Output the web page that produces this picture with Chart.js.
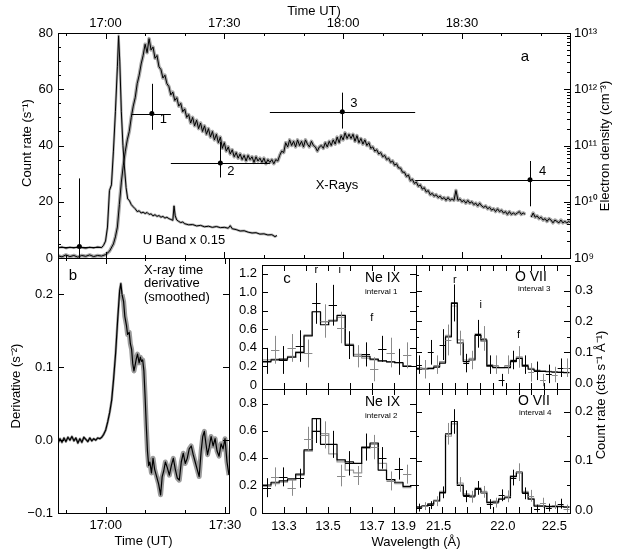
<!DOCTYPE html>
<html>
<head>
<meta charset="utf-8">
<script src="https://cdn.jsdelivr.net/npm/chart.js@4.4.1/dist/chart.umd.min.js"></script>
<style>
html, body { margin: 0; padding: 0; background: #fff; }
#wrap { position: relative; width: 627px; height: 551px; overflow: hidden; }
#wrap canvas { position: absolute; left: 0; top: 0; }
</style>
</head>
<body>
<div id="wrap">
  <canvas id="cA" width="627" height="551"></canvas>
  <canvas id="cB" width="627" height="551"></canvas>
  <canvas id="cC1" width="627" height="551"></canvas>
  <canvas id="cC2" width="627" height="551"></canvas>
  <canvas id="cC3" width="627" height="551"></canvas>
  <canvas id="cC4" width="627" height="551"></canvas>
</div>
<script>
// ================= DATA =================
// times are minutes after 17:00 UT

// panel a: X-ray count rate [min, s^-1]
const xrayRate = [
  [-12,0.8],[-11,0.4],[-10,1.1],[-9,0.5],[-8,0.9],[-7,0.3],[-6,0.9],[-5,0.6],[-4,1.1],[-3,0.5],[-2,0.9],[-1,0.7],
  [0,1.2],[1,2.4],[2,5],[2.5,7.5],[3,11],[3.5,19],[4,27],[4.5,33],[5,38],[5.5,42],[6,45],[6.5,50],[7,54],[7.5,57],
  [8,62],[8.5,65],[9,69],[9.5,72],[10,76],[10.5,73],[11,78],[11.5,74],[12,75],[12.5,71],[13,72],[13.5,68],[14,67],
  [14.5,64],[15,65],[15.5,62],[16,61],[16.5,58],[17,59],[17.5,56],[18,57],[18.5,54],[19,55],[19.5,52],[20,53],
  [20.5,50],[21,51],[21.5,48],[22,50],[22.5,47],[23,49],[23.5,46],[24,48],[24.5,45],[25,47],[25.5,44],[26,46],
  [26.5,43],[27,45],[27.5,42],[28,44],[28.5,41],[29,43],[29.5,39],[30,41],[30.5,38],[31,39.5],[31.5,37],[32,38.5],
  [32.5,36],[33,37.5],[33.5,35.5],[34,37],[34.5,35],[35,36.5],[35.5,34.5],[36,36.5],[36.5,35],[37,36],[37.5,34],
  [38,36],[38.5,34.5],[39,35.5],[39.5,34],[40,35.5],[40.5,33.5],[41,35],[41.5,34],[42,35],[42.5,33.5],[43,35],
  [43.5,34.5],[44,36.5],[44.5,38],[45,37.5],[45.5,41],[46,39.5],[46.5,42],[47,40],[47.5,41.5],[48,39.5],[48.5,42],
  [49,40],[49.5,41.5],[50,39.5],[50.5,42],[51,40.5],[51.5,39.5],[52,41.5],[52.5,40],[53,39.5],[53.5,38],[54,39.5],
  [54.5,40],[55,39],[55.5,41],[56,39.5],[56.5,41.5],[57,40],[57.5,42],[58,40.5],[58.5,43],[59,41],[59.5,43.5],
  [60,42],[60.5,44.5],[61,42.5],[61.5,44],[62,42.5],[62.5,44],[63,41.5],[63.5,43.5],[64,41],[64.5,42.5],[65,40.5],
  [65.5,42],[66,40],[66.5,41],[67,39],[67.5,39.5],[68,38],[68.5,38.5],[69,37],[69.5,37.5],[70,36],[70.5,36.5],
  [71,35],[71.5,35.5],[72,34],[72.5,34.5],[73,33],[73.5,33.5],[74,32],[74.5,32],[75,30.5],[75.5,30.5],[76,29],
  [76.5,29.5],[77,27.5],[77.5,28],[78,26.5],[78.5,27],[79,25.5],[79.5,26],[80,24.5],[80.5,25],[81,23.5],[81.5,24],
  [82,22.5],[82.5,23],[83,22],[83.5,22.5],[84,21.5],[84.5,22],[85,21],[85.5,21.5],[86,20.5],[86.5,21.5],[87,20.5],
  [87.5,21],[88,20.5],[88.5,24],[89,20.5],[89.5,21],[90,20],[90.5,20.5],[91,19.5],[91.5,20.5],[92,19.5],[92.5,20],
  [93,19],[93.5,19.5],[94,18.5],[94.5,19.5],[95,18.5],[95.5,18],[96,18.5],[96.5,17.5],[97,18],[97.5,17],[98,17.5],
  [98.5,16.5],[99,17.5],[99.5,16.5],[100,17],[100.5,16],[101,16.5],[101.5,15.5],[102,16.5],[102.5,15.5],[103,16],
  [103.5,15.5],[104,16],[104.5,16.5],[105,15.5],[105.5,16],[106,15.5],[106.5,null],[107.5,14.5],[108,16],
  [108.5,14.5],[109,15],[109.5,14],[110,14.5],[110.5,13.5],[111,14],[111.5,13],[112,14],[112.5,13.5],[113,12.5],
  [113.5,13.5],[114,13],[114.5,12.5],[115,13.5],[115.5,12.5],[116,13],[116.5,12.5],[117,13],[117.3,12.6]
];

// panel a: U band rate x 0.15 [min, s^-1]
const uBandRate = [
  [-12,3.6],[-11,3.9],[-10,3.5],[-9,3.8],[-8,3.6],[-7,3.9],[-6,3.7],[-5,3.5],[-4,3.8],[-3,3.6],[-2,3.9],[-1,3.7],
  [-0.5,4.5],[0,6],[0.5,11],[1,24],[1.5,26],[2,38],[2.5,52],[3,68],[3.3,79],[3.6,70],[4,52],[4.4,40],[4.8,32],
  [5.2,25],[5.6,21],[6,20.5],[6.5,19],[7,18.2],[7.5,17.5],[8,16.5],[8.5,16.8],[9,16],[9.5,16.3],[10,15.8],
  [10.5,16.2],[11,15.5],[11.5,15.7],[12,15],[12.5,15.4],[13,14.8],[13.5,15.1],[14,14.5],[14.5,14.8],[15,14.2],
  [15.5,14.5],[16,14],[16.5,13.7],[17,13.4],[17.3,18.5],[17.6,15],[18,13.5],[18.5,13],[19,12.6],[19.5,12.8],
  [20,12.2],[21,11.8],[22,11.9],[23,11.4],[24,11.6],[25,11.1],[26,11.3],[27,10.9],[28,11.2],[29,10.8],[30,10.9],
  [31,10.6],[31.5,11.5],[32,10.4],[33,10.1],[34,9.6],[35,9.7],[36,9.2],[37,8.9],[38,9],[39,8.5],[40,8.6],
  [41,8.2],[42,8.3],[42.8,7.6],[43.3,8.0]
];

// panel a: electron density per interval [min, cm^-3] with ranges
const densityTime  = [-6.6, 11.7, 29.0, 59.8, 107.2];
const densityStart = [-12, 6.6, 16.5, 41.5, 78.2];
const densityEnd   = [-1, 16.5, 41.5, 78.2, 117.3];
const densityValue = [1.6e9, 3.7e11, 4.9e10, 4.0e11, 2.45e10];
const densityLow   = [1e8, 1.9e11, 2.7e10, 2.0e11, 8.3e9];
const densityHigh  = [2.6e10, 1.25e12, 1.16e11, 8.7e11, 5.3e10];
const densityLabel = ['', '1', '2', '3', '4'];

// panel b: smoothed X-ray time derivative [min, s^-2]
const xrayDeriv = [
  [-12,-0.004],[-11.5,0.002],[-11,-0.003],[-10.5,0.003],[-10,-0.002],[-9.5,0.004],[-9,0.000],[-8.5,0.005],
  [-8,-0.001],[-7.5,0.003],[-7,-0.004],[-6.5,0.002],[-6,-0.003],[-5.5,0.004],[-5,0.001],[-4.5,-0.002],[-4,0.003],
  [-3.5,-0.001],[-3,0.002],[-2.5,0.000],[-2,0.003],[-1.5,0.002],[-1,0.004],[-0.5,0.008],[0,0.014],[0.5,0.025],
  [1,0.038],[1.5,0.055],[2,0.085],[2.5,0.12],[3,0.165],[3.5,0.205],[3.8,0.215],[4.1,0.200],[4.5,0.190],
  [4.8,0.170],[5.2,0.158],[5.5,0.145],[5.9,0.148],[6.2,0.132],[6.5,0.125],[6.8,0.105],[7.1,0.095],[7.4,0.103],
  [7.7,0.112],[8,0.118],[8.4,0.106],[8.7,0.114],[9,0.108],[9.3,0.110],[9.6,0.095],[9.9,0.060],[10.2,0.020],
  [10.5,-0.015],[10.8,-0.035],[11.1,-0.030],[11.5,-0.045],[11.9,-0.025],[12.3,-0.040],[12.8,-0.050],[13.3,-0.060],
  [13.8,-0.075],[14.2,-0.050],[14.6,-0.042],[15,-0.030],[15.5,-0.038],[16,-0.048],[16.5,-0.035],[17,-0.025],
  [17.5,-0.040],[18,-0.052],[18.5,-0.055],[19,-0.030],[19.5,-0.018],[20,-0.032],[20.5,-0.025],[21,-0.012],
  [21.5,-0.008],[22,-0.020],[22.5,-0.030],[23,-0.040],[23.5,-0.050],[24,-0.015],[24.4,0.005],[24.8,0.012],
  [25.2,-0.005],[25.6,-0.020],[26,-0.010],[26.5,0.005],[27,-0.008],[27.5,0.002],[28,-0.015],[28.5,-0.022],
  [29,-0.005],[29.5,-0.012],[30,0.002],[30.5,-0.030],[31,-0.048]
];

// panel c: Ne IX bins [Angstrom]
const neBins = [13.222,13.260,13.297,13.335,13.372,13.410,13.447,13.485,13.522,13.560,13.597,13.635,13.672,13.710,13.747,13.785,13.822,13.860];
const neInt1Black = [0.25,0.27,0.28,0.30,0.35,0.53,0.79,0.65,0.69,0.75,0.43,0.31,0.31,0.28,0.26,0.25,0.24,0.20];
const neInt1Grey  = [0.27,0.28,0.27,0.31,0.36,0.54,0.79,0.68,0.70,0.73,0.44,0.33,0.29,0.27,0.26,0.25,0.24,0.21];
const neInt1Rate  = [0.26,0.38,0.27,0.40,0.42,0.34,0.88,0.69,0.86,0.62,0.43,0.31,0.33,0.17,0.39,0.35,0.25,0.32];
const neInt1Err   = [0.14,0.15,0.15,0.15,0.17,0.15,0.22,0.18,0.22,0.17,0.15,0.12,0.13,0.13,0.14,0.16,0.14,0.14];
const neInt2Black = [0.20,0.22,0.23,0.245,0.28,0.46,0.69,0.50,0.50,0.385,0.37,0.36,0.48,0.51,0.31,0.24,0.22,0.19];
const neInt2Grey  = [0.19,0.21,0.22,0.235,0.27,0.45,0.60,0.58,0.43,0.37,0.31,0.29,0.47,0.50,0.36,0.24,0.21,0.18];
const neInt2Rate  = [0.18,0.26,0.26,0.18,0.25,0.54,0.60,0.57,0.50,0.27,0.36,0.27,0.48,0.48,0.40,0.23,0.32,0.28];
const neInt2Err   = [0.07,0.07,0.07,0.06,0.07,0.09,0.09,0.10,0.10,0.08,0.09,0.07,0.10,0.09,0.08,0.07,0.08,0.07];

// panel c: O VII bins [Angstrom]
const oBins = [21.323,21.369,21.415,21.461,21.507,21.553,21.599,21.645,21.691,21.737,21.783,21.829,21.875,
               21.921,21.967,22.013,22.059,22.105,22.151,22.197,22.243,22.289,22.335,22.381,22.427,22.473];
const oInt3Black = [0.045,0.045,0.047,0.052,0.065,0.15,0.26,0.13,0.07,0.075,0.155,0.14,0.055,0.05,0.05,0.05,0.07,0.08,0.055,0.045,0.04,0.038,0.037,0.036,0.035,0.034];
const oInt3Grey  = [0.05,0.048,0.05,0.055,0.07,0.155,0.25,0.14,0.075,0.08,0.16,0.135,0.06,0.055,0.05,0.055,0.075,0.085,0.06,0.048,0.042,0.04,0.038,0.037,0.036,0.035];
const oInt3Rate  = [0.06,0.045,0.10,0.06,0.125,0.14,0.26,0.13,0.065,0.075,0.16,0.145,0.06,0.06,0.01,0.06,0.075,0.085,0.06,0.035,0.04,0.01,0.03,0.028,0.05,0.05];
const oInt3Err   = [0.03,0.03,0.04,0.03,0.05,0.05,0.06,0.04,0.03,0.03,0.045,0.04,0.03,0.03,0.02,0.03,0.03,0.035,0.03,0.03,0.03,0.02,0.03,0.025,0.03,0.03];
const oInt4Black = [0.006,0.008,0.012,0.018,0.035,0.155,0.18,0.05,0.03,0.028,0.042,0.035,0.015,0.016,0.022,0.025,0.068,0.077,0.035,0.022,0.008,0.008,0.007,0.007,0.007,0.006];
const oInt4Grey  = [0.007,0.009,0.013,0.02,0.038,0.15,0.175,0.055,0.033,0.03,0.045,0.038,0.017,0.018,0.024,0.028,0.07,0.075,0.038,0.024,0.01,0.009,0.008,0.008,0.008,0.007];
const oInt4Rate  = [0.005,0.008,0.01,0.018,0.036,0.155,0.18,0.052,0.028,0.027,0.045,0.037,0.012,0.015,0.03,0.028,0.066,0.077,0.034,0.029,0.003,0.015,0.005,0.01,0.013,0.003];
const oInt4Err   = [0.008,0.008,0.008,0.01,0.012,0.022,0.025,0.015,0.012,0.012,0.014,0.012,0.01,0.01,0.012,0.012,0.016,0.018,0.012,0.012,0.008,0.01,0.008,0.008,0.01,0.008];

// line identifications (resonance, intercombination, forbidden)
const neLines = [['r', 13.447, 1.24], ['i', 13.553, 1.24], ['f', 13.699, 0.72]];
const oLines  = [['r', 21.602, 0.334], ['i', 21.804, 0.253], ['f', 22.098, 0.157]];

// tick labels
const timeLabelsA = [0, 30, 60, 90];
const timeLabelsB = [0, 30];
const countLabels = [0, 20, 40, 60, 80];
const densityDecades = [1e9, 1e10, 1e11, 1e12, 1e13];
const derivLabels = [-0.1, 0.0, 0.1, 0.2];

// ================= SETUP =================
const W = 627, H = 551, AX = 30;
const FONT = "'Liberation Sans', Arial, Helvetica, sans-serif";
const GREY = '#8a8a8a';

Chart.defaults.font.family = FONT;
Chart.defaults.font.size = 13;
Chart.defaults.color = '#000';
Chart.defaults.animation = false;
Chart.defaults.events = [];
Chart.defaults.plugins.legend.display = false;
Chart.defaults.plugins.tooltip.enabled = false;

const SUP = '⁰¹²³⁴⁵⁶⁷⁸⁹';
const sup = n => String(n).split('').map(d => SUP[+d]).join('');
const clock = m => { const t = 17 * 60 + m; return Math.floor(t / 60) + ':' + String(t % 60).padStart(2, '0'); };
const steps = (a, b, s) => { const out = []; for (let v = a; v <= b + 1e-9; v += s) out.push(+v.toFixed(4)); return out; };
const snap = v => Math.round(v) + 0.5;
const pts = arr => arr.map(([x, y]) => ({x, y}));

function histo(bins, vals) {
    const hw = (bins[1] - bins[0]) / 2, out = [];
    bins.forEach((c, i) => { out.push({x: c - hw, y: vals[i]}, {x: c + hw, y: vals[i]}); });
    return out;
}
function crosses(bins, rate, err) {
    const hw = (bins[1] - bins[0]) / 2;
    return bins.map((c, i) => ({x: c, y: rate[i], xMin: c - hw, xMax: c + hw, yMin: rate[i] - err[i], yMax: rate[i] + err[i]}));
}

function axis(pos, min, max, labels, fmt, extra) {
    return Object.assign({
        type: 'linear', position: pos, min, max,
        display: !!labels,
        grid: {display: false, drawTicks: false},
        border: {display: false},
        ticks: {display: !!labels, autoSkip: false, maxRotation: 0, padding: 5, callback: fmt || (v => v)},
        afterBuildTicks: s => { if (labels) s.ticks = labels.map(value => ({value})); },
        afterFit: s => {
            if (!s.options.display) return;
            if (s.isHorizontal()) s.height = AX; else s.width = AX;
            s.paddingLeft = s.paddingRight = s.paddingTop = s.paddingBottom = 0;
        }
    }, extra || {});
}

// ================= PLUGINS =================
function framePlugin(spec) {
    return {
        id: 'frame',
        afterDatasetsDraw(chart) {
            const {ctx, chartArea: a} = chart;
            ctx.save();
            ctx.strokeStyle = '#000';
            ctx.lineWidth = 1;
            spec.forEach(t => {
                const s = chart.scales[t.scale];
                [[t.major, 6], [t.minor || [], 3]].forEach(([vals, len]) => vals.forEach(v => {
                    if (v <= s.min || v >= s.max) return;
                    const p = snap(s.getPixelForValue(v));
                    ctx.beginPath();
                    t.edges.forEach(e => {
                        if (e === 'top') { ctx.moveTo(p, a.top); ctx.lineTo(p, a.top + len); }
                        if (e === 'bottom') { ctx.moveTo(p, a.bottom); ctx.lineTo(p, a.bottom - len); }
                        if (e === 'left') { ctx.moveTo(a.left, p); ctx.lineTo(a.left + len, p); }
                        if (e === 'right') { ctx.moveTo(a.right, p); ctx.lineTo(a.right - len, p); }
                    });
                    ctx.stroke();
                }));
            });
            ctx.strokeRect(a.left + 0.5, a.top + 0.5, a.right - a.left, a.bottom - a.top);
            ctx.restore();
        }
    };
}

const barsPlugin = {
    id: 'bars',
    afterDatasetsDraw(chart) {
        const {ctx, chartArea: a} = chart;
        ctx.save();
        ctx.beginPath();
        ctx.rect(a.left, a.top, a.right - a.left + 1, a.bottom - a.top + 1);
        ctx.clip();
        ctx.lineWidth = 1;
        chart.data.datasets.forEach((ds, i) => {
            if (!ds.bars) return;
            const m = chart.getDatasetMeta(i), xs = m.xScale, ys = m.yScale;
            ds.data.forEach((d, j) => {
                ctx.strokeStyle = ds.barColors ? ds.barColors[j % ds.barColors.length] : '#000';
                const x = snap(xs.getPixelForValue(d.x)), y = snap(ys.getPixelForValue(d.y));
                ctx.beginPath();
                ctx.moveTo(xs.getPixelForValue(d.xMin), y);
                ctx.lineTo(xs.getPixelForValue(d.xMax), y);
                ctx.moveTo(x, ys.getPixelForValue(d.yMin));
                ctx.lineTo(x, ys.getPixelForValue(d.yMax));
                ctx.stroke();
            });
        });
        ctx.restore();
    }
};

function notesPlugin(items) {
    return {
        id: 'notes',
        afterDraw(chart) {
            const ctx = chart.ctx;
            items.forEach(n => {
                let x = n.x, y = n.y;
                if (n.sx) x = chart.scales[n.sx].getPixelForValue(n.vx);
                if (n.sy) y = chart.scales[n.sy].getPixelForValue(n.vy);
                ctx.save();
                ctx.font = (n.size || 13) + 'px ' + FONT;
                ctx.fillStyle = '#000';
                ctx.textAlign = n.align || 'center';
                ctx.textBaseline = 'middle';
                ctx.translate(x + (n.dx || 0), y + (n.dy || 0));
                if (n.rot) ctx.rotate(n.rot * Math.PI / 180);
                ctx.fillText(n.text, 0, 0);
                ctx.restore();
            });
        }
    };
}

// datasets listed first are drawn on top
function makeChart(id, rect, scales, datasets, ticks, notes) {
    const side = {left: 0, right: 0, top: 0, bottom: 0};
    Object.values(scales).forEach(s => { if (s.display) side[s.position] = AX; });
    return new Chart(document.getElementById(id), {
        type: 'line',
        data: {datasets},
        options: {
            responsive: false,
            devicePixelRatio: 1,
            layout: {padding: {
                left: rect.l - side.left, top: rect.t - side.top,
                right: W - rect.r - side.right, bottom: H - rect.b - side.bottom
            }},
            elements: {point: {radius: 0}, line: {tension: 0, borderJoinStyle: 'round'}},
            scales
        },
        plugins: [framePlugin(ticks), barsPlugin, notesPlugin(notes || [])]
    });
}

// ================= PANEL A =================
const decadeLabel = v => '10' + sup(Math.round(Math.log10(v)));
makeChart('cA', {l: 58, t: 33, r: 570, b: 258}, {
    x: axis('top', -12, 117.3, timeLabelsA, clock, {ticks: {display: true, autoSkip: false, maxRotation: 0, padding: 2, callback: clock}}),
    y: axis('left', 0, 80, countLabels),
    yr: axis('right', 1e9, 1e13, densityDecades, decadeLabel, {type: 'logarithmic', ticks: {display: true, autoSkip: false, maxRotation: 0, padding: 4, callback: decadeLabel}})
}, [
    {data: densityTime.map((t, i) => ({x: t, y: densityValue[i], xMin: densityStart[i], xMax: densityEnd[i], yMin: densityLow[i], yMax: densityHigh[i]})),
     yAxisID: 'yr', showLine: false, pointRadius: 2.5, pointBackgroundColor: '#000', pointBorderWidth: 0, bars: true},
    {data: pts(xrayRate), borderColor: '#000', borderWidth: 1},
    {data: pts(uBandRate), borderColor: '#000', borderWidth: 1},
    {data: pts(xrayRate), borderColor: '#a6a6a6', borderWidth: 3.5},
    {data: pts(uBandRate), borderColor: '#b0b0b0', borderWidth: 2.5}
], [
    {scale: 'x', edges: ['top', 'bottom'], major: timeLabelsA, minor: steps(-10, 110, 10)},
    {scale: 'y', edges: ['left'], major: countLabels, minor: steps(5, 75, 5)},
    {scale: 'yr', edges: ['right'], major: densityDecades,
     minor: [9, 10, 11, 12].flatMap(d => [2, 3, 4, 5, 6, 7, 8, 9].map(k => k * Math.pow(10, d)))}
], [
    {text: 'Time UT)', x: 314, y: 11},
    {text: 'Count rate (s⁻¹)', x: 27, y: 143, rot: -90},
    {text: 'Electron density (cm⁻³)', x: 605, y: 146, rot: -90},
    {text: 'a', x: 525, y: 57, size: 15},
    {text: 'X-Rays', x: 337, y: 185},
    {text: 'U Band x 0.15', x: 184, y: 240},
    ...densityLabel.map((t, i) => ({text: t, sx: 'x', vx: densityTime[i], sy: 'yr', vy: densityValue[i],
        dx: [0, 8, 7, 8, 9][i], dy: [0, 6, 8, -8, -8][i], align: 'left'}))
]);

// ================= PANEL B =================
makeChart('cB', {l: 58, t: 258, r: 229, b: 513}, {
    x: axis('bottom', -12, 31, timeLabelsB, clock),
    y: axis('left', -0.1, 0.25, derivLabels, v => v < 0 ? '−' + Math.abs(v).toFixed(1) : v.toFixed(1))
}, [
    {data: pts(xrayDeriv), borderColor: '#000', borderWidth: 1.2},
    {data: pts(xrayDeriv), borderColor: '#9c9c9c', borderWidth: 2.5,
     segment: {borderWidth: c => c.p0.parsed.x > 4 ? 5 : 2.5}}
], [
    {scale: 'x', edges: ['top', 'bottom'], major: timeLabelsB, minor: [-10, 10, 20]},
    {scale: 'y', edges: ['left', 'right'], major: derivLabels}
], [
    {text: 'Derivative (s⁻²)', x: 16, y: 386, rot: -90},
    {text: 'Time (UT)', x: 143.5, y: 541},
    {text: 'b', x: 73, y: 276, size: 15},
    {text: 'X-ray time', x: 144, y: 270, align: 'left'},
    {text: 'derivative', x: 144, y: 283.5, align: 'left'},
    {text: '(smoothed)', x: 144, y: 297, align: 'left'}
]);

// ================= PANEL C =================
const specFmt0 = v => v === 0 ? '0' : v.toFixed(1);
const specFmt1 = v => v.toFixed(1);
const spectrumSets = (bins, black, grey, rate, err) => [
    {data: crosses(bins, rate, err), showLine: false, bars: true, barColors: ['#000', GREY]},
    {data: histo(bins, black), borderColor: '#000', borderWidth: 1.2},
    {data: histo(bins, grey), borderColor: '#9a9a9a', borderWidth: 1.2}
];
const lineNotes = (lines, ys) => lines.map(([t, w, v]) => ({text: t, sx: 'x', vx: w, sy: ys, vy: v, size: 11}));

makeChart('cC1', {l: 262, t: 265, r: 416, b: 389}, {
    x: axis('bottom', 13.2, 13.9),
    y: axis('left', -0.043, 1.294, steps(0, 1.2, 0.2), specFmt0)
}, spectrumSets(neBins, neInt1Black, neInt1Grey, neInt1Rate, neInt1Err), [
    {scale: 'x', edges: ['top', 'bottom'], major: steps(13.3, 13.8, 0.1)},
    {scale: 'y', edges: ['left', 'right'], major: steps(0.2, 1.2, 0.2)}
], [
    {text: 'c', x: 287, y: 279, size: 15},
    {text: 'Ne IX', x: 365, y: 278, align: 'left', size: 14},
    {text: 'interval 1', x: 365, y: 292, align: 'left', size: 8},
    ...lineNotes(neLines, 'y')
]);

makeChart('cC2', {l: 262, t: 389, r: 416, b: 513}, {
    x: axis('bottom', 13.2, 13.9, [13.2, 13.3, 13.5, 13.7, 13.9], null,
        {ticks: {display: true, autoSkip: false, maxRotation: 0, padding: 6, align: 'inner', callback: v => Math.abs(v - 13.2) < 1e-6 ? '' : v.toFixed(1)}}),
    y: axis('left', -0.007, 0.909, steps(0, 0.8, 0.2), specFmt0)
}, spectrumSets(neBins, neInt2Black, neInt2Grey, neInt2Rate, neInt2Err), [
    {scale: 'x', edges: ['top', 'bottom'], major: steps(13.3, 13.8, 0.1)},
    {scale: 'y', edges: ['left', 'right'], major: steps(0.2, 0.8, 0.2)}
], [
    {text: 'Ne IX', x: 365, y: 402, align: 'left', size: 14},
    {text: 'interval 2', x: 365, y: 416, align: 'left', size: 8},
    {text: 'Wavelength (Å)', x: 416, y: 542}
]);

makeChart('cC3', {l: 416, t: 265, r: 570, b: 389}, {
    x: axis('bottom', 21.3, 22.5),
    yr: axis('right', -0.019, 0.383, steps(0, 0.3, 0.1), specFmt1)
}, spectrumSets(oBins, oInt3Black, oInt3Grey, oInt3Rate, oInt3Err).map(d => Object.assign(d, {yAxisID: 'yr'})), [
    {scale: 'x', edges: ['top', 'bottom'], major: steps(21.4, 22.4, 0.1)},
    {scale: 'yr', edges: ['left', 'right'], major: steps(0.1, 0.3, 0.1), minor: steps(0.05, 0.35, 0.1)}
], [
    {text: 'O VII', x: 515, y: 277, align: 'left', size: 14},
    {text: 'interval 3', x: 518, y: 289, align: 'left', size: 8},
    ...lineNotes(oLines, 'yr'),
    {text: 'Count rate (cts s⁻¹ Å⁻¹)', x: 601, y: 395, rot: -90}
]);

makeChart('cC4', {l: 416, t: 389, r: 570, b: 513}, {
    x: axis('bottom', 21.3, 22.5, [21.3, 21.5, 22.0, 22.5], null,
        {ticks: {display: true, autoSkip: false, maxRotation: 0, padding: 6, align: 'inner', labelOffset: -3, callback: v => Math.abs(v - 21.3) < 1e-6 ? '' : v.toFixed(1)}}),
    yr: axis('right', -0.006, 0.246, steps(0, 0.2, 0.1), specFmt1)
}, spectrumSets(oBins, oInt4Black, oInt4Grey, oInt4Rate, oInt4Err).map(d => Object.assign(d, {yAxisID: 'yr'})), [
    {scale: 'x', edges: ['top', 'bottom'], major: steps(21.4, 22.4, 0.1)},
    {scale: 'yr', edges: ['left', 'right'], major: steps(0.1, 0.2, 0.1), minor: steps(0.05, 0.15, 0.1)}
], [
    {text: 'O VII', x: 518, y: 401, align: 'left', size: 14},
    {text: 'interval 4', x: 519, y: 413, align: 'left', size: 8}
]);
</script>
</body>
</html>
